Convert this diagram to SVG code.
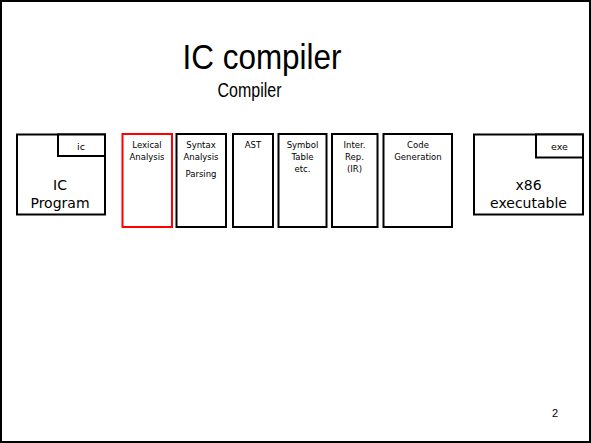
<svg xmlns="http://www.w3.org/2000/svg" width="591" height="443" viewBox="0 0 591 443">
<style>
.box{fill:#fff;stroke:#000;stroke-width:2}
.red{fill:#fff;stroke:#f00;stroke-width:2}
.lbl{font-family:"DejaVu Sans",Verdana,sans-serif;font-size:8.5px;fill:#000;text-anchor:middle}
.big{font-family:"DejaVu Sans",Verdana,sans-serif;font-size:14px;fill:#000;text-anchor:middle}
.tag{font-family:"DejaVu Sans",Verdana,sans-serif;font-size:9.5px;fill:#000;text-anchor:middle}
.ttl{font-family:"Liberation Sans",Arial,sans-serif;fill:#000;text-anchor:middle}
</style>
<rect x="1" y="1" width="589" height="441" fill="#fff" stroke="#000" stroke-width="2"/>
<g id="title">
<text class="ttl" x="262" y="69" font-size="35" textLength="159" lengthAdjust="spacingAndGlyphs">IC compiler</text>
<text class="ttl" x="249.5" y="96.5" font-size="20" textLength="64" lengthAdjust="spacingAndGlyphs">Compiler</text>
</g>
<g id="ic-program">
<rect class="box" x="17" y="134.5" width="88" height="80"/>
<rect class="box" x="58" y="134.5" width="47" height="21.5"/>
<text class="tag" x="81" y="149.5">ic</text>
<text class="big" x="60" y="189.5">IC</text>
<text class="big" x="60" y="207.5">Program</text>
</g>
<g id="lexical">
<rect class="red" x="122.5" y="134" width="49.5" height="93"/>
<text class="lbl" x="147" y="147.5">Lexical</text>
<text class="lbl" x="147" y="159.5">Analysis</text>
</g>
<g id="syntax">
<rect class="box" x="176.5" y="134" width="49.5" height="93"/>
<text class="lbl" x="201" y="147.5">Syntax</text>
<text class="lbl" x="201" y="159.5">Analysis</text>
<text class="lbl" x="201" y="176.5">Parsing</text>
</g>
<g id="ast">
<rect class="box" x="233" y="134" width="40" height="93"/>
<text class="lbl" x="253" y="147.5">AST</text>
</g>
<g id="symbol">
<rect class="box" x="278.5" y="134" width="48" height="93"/>
<text class="lbl" x="302.5" y="147.5">Symbol</text>
<text class="lbl" x="302.5" y="159.5">Table</text>
<text class="lbl" x="302.5" y="171.5">etc.</text>
</g>
<g id="ir">
<rect class="box" x="332" y="134" width="45.5" height="93"/>
<text class="lbl" x="354.5" y="147.5">Inter.</text>
<text class="lbl" x="354.5" y="159.5">Rep.</text>
<text class="lbl" x="354.5" y="171.5">(IR)</text>
</g>
<g id="codegen">
<rect class="box" x="383.5" y="134" width="68.5" height="93"/>
<text class="lbl" x="418" y="147.5">Code</text>
<text class="lbl" x="418" y="159.5">Generation</text>
</g>
<g id="x86">
<rect class="box" x="474" y="134.5" width="109" height="80"/>
<rect class="box" x="536" y="134.5" width="47" height="23"/>
<text class="tag" x="559.5" y="149.5">exe</text>
<text class="big" x="528.5" y="189.5">x86</text>
<text class="big" x="528.5" y="207.5">executable</text>
</g>
<g id="connectors"></g>
<text x="555" y="417" font-family="Liberation Sans, Arial, sans-serif" font-size="11" text-anchor="middle" fill="#000">2</text>
</svg>
